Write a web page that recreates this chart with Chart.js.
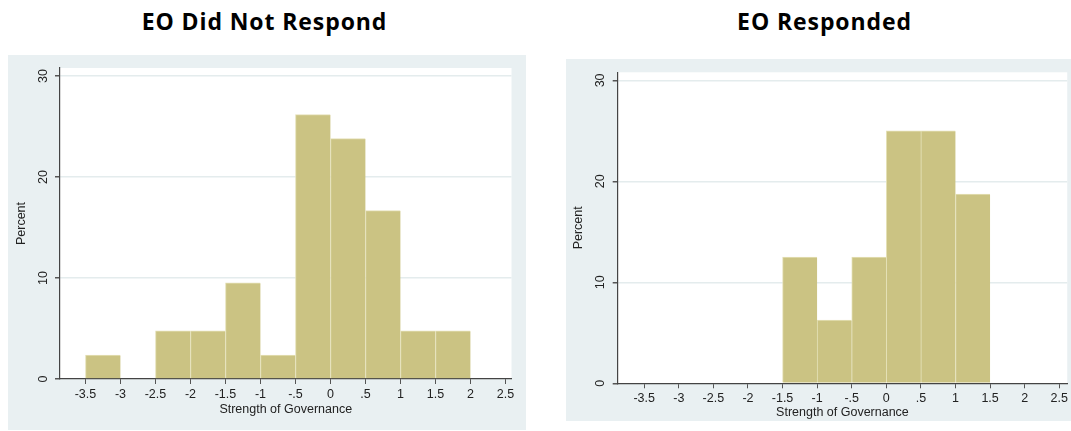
<!DOCTYPE html>
<html>
<head>
<meta charset="utf-8">
<script src="https://cdn.jsdelivr.net/npm/chart.js@4"></script>
<style>
  body { margin: 0; background: #fff; width: 1071px; height: 431px; overflow: hidden; position: relative; }
  .title { position: absolute; top: 10px; font: bold 23px/23px "Open Sans", sans-serif; letter-spacing: 0.9px; color: #000; text-align: center; }
  .panel { position: absolute; background: #e9f0f2; }
</style>
</head>
<body>
<div class="title" style="left:0;width:529px">EO Did Not Respond</div>
<div class="title" style="left:700px;width:249px">EO Responded</div>
<div class="panel" style="left:8px;top:55px;width:518px;height:375px"><canvas id="left"></canvas></div>
<div class="panel" style="left:566px;top:59px;width:505px;height:362px"><canvas id="right"></canvas></div>
<script>
// histogram bins (start of each 0.5-wide bin) and percent in each bin
const binWidth = 0.5;
const leftBinStarts = [-3.5, -3, -2.5, -2, -1.5, -1, -0.5, 0, 0.5, 1, 1.5];
const leftPercent = [2.38, 0, 4.76, 4.76, 9.52, 2.38, 26.19, 23.81, 16.67, 4.76, 4.76];
const rightBinStarts = [-1.5, -1, -0.5, 0, 0.5, 1];
const rightPercent = [12.5, 6.25, 12.5, 25, 25, 18.75];

// axis ticks
const xTickValues = [-3.5, -3, -2.5, -2, -1.5, -1, -0.5, 0, 0.5, 1, 1.5, 2, 2.5];
const xTickLabels = ['-3.5', '-3', '-2.5', '-2', '-1.5', '-1', '-.5', '0', '.5', '1', '1.5', '2', '2.5'];
const yTickValues = [0, 10, 20, 30];
const yTickLabels = ['0', '10', '20', '30'];

const labelFont = { family: '"Liberation Sans", Arial, sans-serif', size: 12.5 };

// white plot region inside the grey panel
const plotBg = {
  id: 'plotBg',
  beforeDraw(chart) {
    const { ctx, chartArea: a } = chart;
    ctx.save();
    ctx.fillStyle = '#fff';
    ctx.fillRect(a.left, a.top, a.right - a.left, a.bottom - a.top);
    ctx.restore();
  }
};

function makeHist(id, starts, values, g) {
  return new Chart(document.getElementById(id), {
    type: 'bar',
    data: {
      datasets: [{
        data: starts.map((s, i) => ({ x: s + binWidth / 2, y: values[i] })),
        backgroundColor: '#cbc383',
        borderColor: '#e4e0b6',
        borderWidth: { top: 1, left: 1, right: 0, bottom: 0 },
        borderSkipped: false,
        barPercentage: 1,
        categoryPercentage: 1
      }]
    },
    options: {
      responsive: true,
      maintainAspectRatio: false,
      animation: false,
      layout: { padding: { top: g.top, right: g.right, left: 0, bottom: 0 } },
      plugins: { legend: { display: false }, tooltip: { enabled: false } },
      scales: {
        x: {
          type: 'linear',
          min: g.xMin,
          max: g.xMax,
          offset: false,
          afterBuildTicks: s => { s.ticks = xTickValues.map(v => ({ value: v })); },
          afterFit: s => { s.height = g.xHeight; },
          grid: { offset: false, drawOnChartArea: false, tickLength: 5, tickColor: '#555' },
          border: { color: '#444', width: 1.2 },
          ticks: {
            autoSkip: false, maxRotation: 0, padding: 3, color: '#222', font: labelFont,
            callback: (v, i) => xTickLabels[i]
          },
          title: {
            display: true, text: 'Strength of Governance', color: '#222', font: labelFont,
            padding: { top: 0, bottom: g.xTitlePad }
          }
        },
        y: {
          min: 0,
          max: 30.8,
          afterBuildTicks: s => { s.ticks = yTickValues.map(v => ({ value: v })); },
          afterFit: s => { s.width = g.yWidth; },
          grid: {
            color: c => (c.tick && c.tick.value === 0) ? 'rgba(0,0,0,0)' : '#e4eced',
            lineWidth: 1.5, tickLength: 5, tickColor: '#555'
          },
          border: { color: '#444', width: 1.2 },
          ticks: {
            minRotation: 90, maxRotation: 90, crossAlign: 'center', padding: 5,
            color: '#222', font: labelFont,
            callback: (v, i) => yTickLabels[i]
          },
          title: {
            display: true, text: 'Percent', color: '#222', font: labelFont,
            padding: { top: g.yTitlePad, bottom: 0 }
          }
        }
      }
    },
    plugins: [plotBg]
  });
}

makeHist('left', leftBinStarts, leftPercent, {
  top: 13, right: 14.5, yWidth: 52, xHeight: 51,
  xMin: -3.864, xMax: 2.586, xTitlePad: 13, yTitlePad: 5.8
});
makeHist('right', rightBinStarts, rightPercent, {
  top: 13.3, right: 2.3, yWidth: 51.7, xHeight: 37.7,
  xMin: -3.883, xMax: 2.615, xTitlePad: 0.5, yTitlePad: 5.5
});
</script>
</body>
</html>
